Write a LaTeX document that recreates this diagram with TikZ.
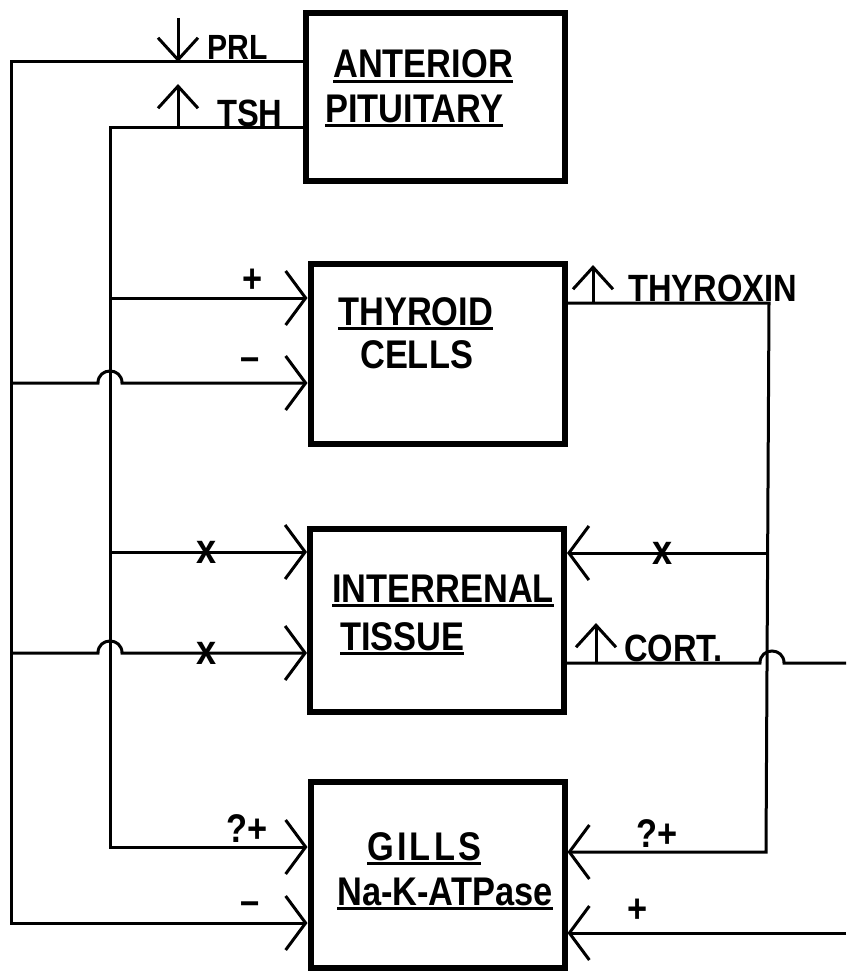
\documentclass[tikz,border=0pt]{standalone}
\usepackage{fontspec}
\setmainfont{Liberation Sans}[FakeStretch=0.86]
\usetikzlibrary{arrows.meta}
\newcommand{\ulw}[1]{\setbox0=\hbox{#1}\rlap{\rule[-5pt]{\wd0}{2.8pt}}\box0}
\begin{document}
\begin{tikzpicture}[x=1pt, y=-1pt,
  gland/.style={draw, line width=6pt, inner sep=0pt, minimum width=254pt},
  gtxt/.style={anchor=base west, inner sep=0pt, font=\fontsize{40}{48}\selectfont\bfseries},
  horm/.style={anchor=base west, inner sep=0pt, font=\fontsize{38}{44}\selectfont\bfseries},
  sgn/.style={inner sep=0pt, font=\fontsize{40}{46}\selectfont\bfseries},
  mk/.style={sgn, font=\fontsize{42}{46}\selectfont\bfseries},
  wire/.style={line width=3pt},
  tip/.style={wire, -{Straight Barb[length=20pt,width=54pt]}},
  flag/.style={wire, -{Straight Barb[length=22pt,width=40pt]}},
]
  \useasboundingbox (0,0) rectangle (846,971);
  % glands
  \node[gland, minimum width=259pt, minimum height=168pt] (pit) at (435.5,97) {};
  \node[gland, minimum height=180pt] (thy) at (437.5,354) {};
  \node[gland, minimum height=183pt] (int) at (437,620.5) {};
  \node[gland, minimum height=186pt] (gil) at (437.5,875) {};
  \node[gtxt] (pitA) at (333,78) {\ulw{ANTERIOR}};
  \node[gtxt] (pitB) at (325,122) {\ulw{PITUITARY}};
  \node[gtxt] (thyA) at (338,325) {\ulw{THYROID}};
  \node[gtxt] (thyB) at (360,368) {CELLS};
  \node[gtxt] (intA) at (332,602) {\ulw{INTERRENAL}};
  \node[gtxt] (intB) at (340,650) {\ulw{TISSUE}};
  \node[gtxt] (gilA) at (367,860) {\ulw{\addfontfeature{LetterSpace=8}GILLS}};
  \node[gtxt] (gilB) at (337,905) {\ulw{Na-K-ATPase}};
  % hormones
  \node[horm, font=\fontsize{35}{40}\selectfont\bfseries] (prl) at (207,60) {PRL};
  \node[horm] (tsh) at (217,126) {TSH};
  \node[horm] (thx) at (628,301) {THYROXIN};
  \node[horm] (cort) at (624,661) {CORT.};
  \draw[flag] (178,18) -- (178,62);
  \draw[flag] (178,128) -- (178,84);
  \draw[flag] (593,303) -- (593,265);
  \draw[flag] (596,663) -- (596,623);
  % buses
  \coordinate (pb) at (11,62);
  \coordinate (pe) at (11,923);
  \coordinate (tb) at (110,128);
  \coordinate (te) at (110,847);
  \coordinate (xb) at (769,303);
  \coordinate (xe) at (766,852);
  \coordinate (ce) at (846,663);
  \coordinate (ne) at (846,933);
  \coordinate (t1) at (110,298);
  \coordinate (t2) at (110,552);
  \coordinate (p1) at (11,383);
  \coordinate (p2) at (11,653);
  \coordinate (x1) at (769,553);
  \draw[tip] (pb -| pit.west) -- (pb) -- (pe) -- (pe -| gil.west);
  \draw[tip] (tb -| pit.west) -- (tb) -- (te) -- (te -| gil.west);
  \draw[tip] (xb -| thy.east) -- (xb) -- (xe) -- (xe -| gil.east);
  \draw[tip] (t1) -- (t1 -| thy.west);
  \draw[tip] (t2) -- (t2 -| int.west);
  \draw[tip] (p1) -- ++(87,0) .. controls +(0,-16) and +(0,-16) .. ++(24,0) -- (p1 -| thy.west);
  \draw[tip] (p2) -- ++(87,0) .. controls +(0,-16) and +(0,-16) .. ++(24,0) -- (p2 -| int.west);
  \draw[tip] (x1) -- (x1 -| int.east);
  \draw[wire] (ce -| int.east) -- ++(193,0) .. controls +(0,-16) and +(0,-16) .. ++(24,0) -- (ce);
  \draw[tip] (ne) -- (ne -| gil.east);
  % signs
  \node[sgn] (s1) at (253,281) {+};
  \node[sgn] (s2) at (250,364) {–};
  \node[mk] (s3) at (207,552) {x};
  \node[mk] (s4) at (207,653) {x};
  \node[mk] (s5) at (663,553) {x};
  \node[sgn] (s6) at (247,829) {?+};
  \node[sgn] (s7) at (250,908) {–};
  \node[sgn] (s8) at (657,834) {?+};
  \node[sgn] (s9) at (638,911) {+};
\end{tikzpicture}
\end{document}
